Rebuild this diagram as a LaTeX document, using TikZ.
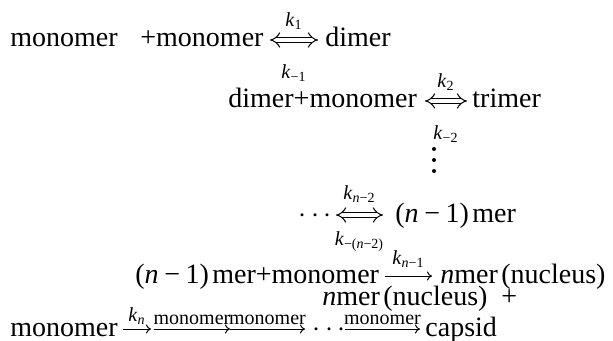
\documentclass[tikz,border=0pt]{standalone}
\usepackage{fontspec}
\setmainfont{Liberation Serif}
\usetikzlibrary{arrows.meta, positioning}

\newcommand{\rk}[1]{\textit{k}\textsubscript{#1}}
\newcommand{\nmin}{(\textit{n}\hspace{0.2em}−\hspace{0.2em}1)\hspace{0.12em}mer}

\tikzset{
  species/.style={anchor=base west, inner sep=0pt, font=\fontsize{14}{16}\selectfont},
  rate/.style={inner sep=0pt, font=\fontsize{10}{12}\selectfont},
  eqarrow/.style={double, double distance=2.2pt, line width=0.5pt, {Implies}-{Implies}},
  fwarrow/.style={line width=0.5pt, -{To[length=2.5pt,width=4.5pt]}},
}

\begin{document}
\begin{tikzpicture}[x=0.5pt, y=-0.5pt]
  \useasboundingbox (0,0) rectangle (613,341);
  % monomer + monomer <=> dimer
  \node[species] (mono1) at (10,47) {monomer};
  \node[species] (plus1) at (140,47) {+monomer};
  \node[species] (dimer1) at (325,47) {dimer};
  \coordinate (a1) at (270,40);
  \coordinate (b1) at (318,40);
  \draw[eqarrow] (a1) -- node[rate, above=5pt] (k1) {\rk{1}}
                         node[rate, below=12pt] (km1) {\rk{−1}} (b1);
  % dimer + monomer <=> trimer
  \node[species] (dimer2) at (228,108) {dimer+monomer};
  \node[species] (trimer) at (472,108) {trimer};
  \coordinate (a2) at (425,101);
  \coordinate (b2) at (467,101);
  \draw[eqarrow] (a2) -- node[rate, above=5pt] (k2) {\rk{2}}
                         node[rate, below=12pt] (km2) {\rk{−2}} (b2);
  \foreach \d in {149,160,171} \fill (434,\d) circle (1pt);
  % ... <=> (n-1) mer
  \node[species] (dots3) at (298,222) {$\cdots$};
  \node[species] (nm1) at (395,222) {\nmin};
  \coordinate (a3) at (336,215);
  \coordinate (b3) at (383,215);
  \draw[eqarrow] (a3) -- node[rate, above=6pt] (kn2) {\rk{\textit{n}−2}}
                         node[rate, below=8pt] (kmn2) {\rk{−(\textit{n}−2)}} (b3);
  % nucleation
  \node[species] (r4) at (135,283) {\nmin+monomer};
  \node[species] (p4) at (440,283) {\textit{n}mer\hspace{0.12em}(nucleus)};
  \coordinate (a4) at (385,276);
  \coordinate (b4) at (432,276);
  \draw[fwarrow] (a4) -- node[rate, above=4pt] (kn1) {\rk{\textit{n}−1}} (b4);
  % growth to capsid
  \node[species] (n5) at (322,305) {\textit{n}mer\hspace{0.12em}(nucleus) \ +};
  \node[species] (mono6) at (10,336) {monomer};
  \node[species] (dots6) at (312,336) {$\cdots$};
  \node[species] (capsid) at (425,336) {capsid};
  \coordinate (g0) at (123,329);
  \coordinate (g1) at (151,329);
  \coordinate (g2) at (154,329);
  \coordinate (g3) at (230,329);
  \coordinate (g4) at (305,329);
  \coordinate (g5) at (345,329);
  \coordinate (g6) at (420,329);
  \draw[fwarrow] (g0) -- node[rate, above=2pt] (kn) {\rk{\textit{n}}} (g1);
  \draw[fwarrow] (g2) -- node[rate, above=2pt] (m1) {monomer} (g3);
  \draw[fwarrow] (g3) -- node[rate, above=2pt] (m2) {monomer} (g4);
  \draw[fwarrow] (g5) -- node[rate, above=2pt] (m3) {monomer} (g6);
\end{tikzpicture}
\end{document}
